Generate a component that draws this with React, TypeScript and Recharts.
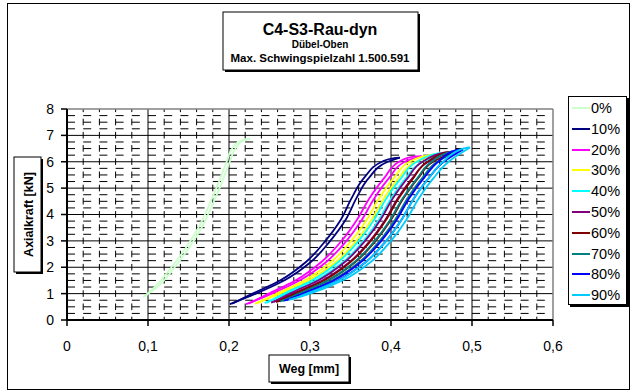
import React from 'react';
import { LineChart, Line, XAxis, YAxis, ReferenceLine } from 'recharts';

// Weg [mm] / Axialkraft [kN] pairs: loading branch up to the turning point, then unloading
const S0 = [[0.094,0.86],[0.113,1.3],[0.133,2.0],[0.152,2.8],[0.168,3.6],[0.18,4.4],[0.191,5.2],[0.201,6.0],[0.208,6.5],[0.217,6.8],[0.226,6.88],[0.215,6.8],[0.205,6.55],[0.197,6.0],[0.187,5.2],[0.176,4.4],[0.164,3.6],[0.148,2.8],[0.129,2.0],[0.11,1.3],[0.096,0.9]];
const S10 = [[0.201,0.6],[0.233,1.0],[0.268,1.5],[0.301,2.2],[0.325,3.0],[0.344,3.8],[0.357,4.6],[0.373,5.4],[0.396,6.0],[0.411,6.16],[0.404,6.14],[0.39,6.02],[0.367,5.4],[0.351,4.6],[0.338,3.8],[0.319,3.0],[0.295,2.2],[0.263,1.5],[0.229,1.0],[0.204,0.62]];
const S20 = [[0.221,0.6],[0.253,1.0],[0.287,1.5],[0.32,2.2],[0.345,3.0],[0.364,3.8],[0.379,4.6],[0.398,5.4],[0.417,6.0],[0.438,6.21],[0.43,6.2],[0.411,6.02],[0.392,5.4],[0.373,4.6],[0.358,3.8],[0.339,3.0],[0.314,2.2],[0.282,1.5],[0.249,1.0],[0.224,0.62]];
const S30 = [[0.232,0.62],[0.263,1.0],[0.298,1.5],[0.332,2.2],[0.357,3.0],[0.376,3.8],[0.391,4.6],[0.41,5.4],[0.43,6.0],[0.46,6.29],[0.452,6.28],[0.424,6.02],[0.404,5.4],[0.385,4.6],[0.37,3.8],[0.351,3.0],[0.326,2.2],[0.293,1.5],[0.259,1.0],[0.235,0.64]];
const S40 = [[0.244,0.64],[0.272,1.0],[0.307,1.5],[0.341,2.2],[0.366,3.0],[0.385,3.8],[0.4,4.6],[0.419,5.4],[0.439,6.0],[0.467,6.34],[0.459,6.33],[0.433,6.02],[0.413,5.4],[0.394,4.6],[0.379,3.8],[0.36,3.0],[0.335,2.2],[0.302,1.5],[0.268,1.0],[0.247,0.66]];
const S50 = [[0.252,0.66],[0.279,1.0],[0.315,1.5],[0.349,2.2],[0.374,3.0],[0.393,3.8],[0.408,4.6],[0.427,5.4],[0.446,6.0],[0.473,6.36],[0.465,6.35],[0.44,6.02],[0.421,5.4],[0.402,4.6],[0.387,3.8],[0.368,3.0],[0.343,2.2],[0.31,1.5],[0.275,1.0],[0.255,0.68]];
const S60 = [[0.258,0.68],[0.285,1.0],[0.322,1.5],[0.356,2.2],[0.381,3.0],[0.4,3.8],[0.415,4.6],[0.434,5.4],[0.452,6.0],[0.479,6.38],[0.471,6.37],[0.446,6.02],[0.428,5.4],[0.409,4.6],[0.394,3.8],[0.375,3.0],[0.35,2.2],[0.317,1.5],[0.281,1.0],[0.261,0.7]];
const S70 = [[0.263,0.7],[0.29,1.0],[0.327,1.5],[0.361,2.2],[0.386,3.0],[0.405,3.8],[0.42,4.6],[0.439,5.4],[0.457,6.0],[0.483,6.4],[0.475,6.39],[0.451,6.02],[0.433,5.4],[0.414,4.6],[0.399,3.8],[0.38,3.0],[0.355,2.2],[0.322,1.5],[0.286,1.0],[0.266,0.72]];
const S80 = [[0.268,0.73],[0.295,1.0],[0.334,1.5],[0.369,2.2],[0.394,3.0],[0.413,3.8],[0.428,4.6],[0.447,5.4],[0.465,6.0],[0.489,6.47],[0.481,6.45],[0.459,6.02],[0.441,5.4],[0.422,4.6],[0.407,3.8],[0.388,3.0],[0.363,2.2],[0.329,1.5],[0.291,1.0],[0.271,0.75]];
const S90 = [[0.274,0.76],[0.3,1.0],[0.34,1.5],[0.375,2.2],[0.4,3.0],[0.419,3.8],[0.434,4.6],[0.453,5.4],[0.471,6.0],[0.4975,6.54],[0.489,6.5],[0.465,6.02],[0.447,5.4],[0.428,4.6],[0.413,3.8],[0.394,3.0],[0.369,2.2],[0.335,1.5],[0.296,1.0],[0.277,0.78]];

const SERIES = [S0, S10, S20, S30, S40, S50, S60, S70, S80, S90];
const NAMES = ['0%', '10%', '20%', '30%', '40%', '50%', '60%', '70%', '80%', '90%'];
const COLORS = ['#ccffcc', '#000080', '#ff00ff', '#ffff00', '#00ffff', '#800080', '#800000', '#008080', '#0000ff', '#00ccff'];

const X_TICKS = [0, 0.1, 0.2, 0.3, 0.4, 0.5, 0.6];
const Y_TICKS = [0, 1, 2, 3, 4, 5, 6, 7, 8];

const FONT = '"Liberation Sans", Arial, sans-serif';

// gridline positions (major every 1 kN / 0.1 mm, minor 0.25 kN / 0.02 mm)
const majorY = [1, 2, 3, 4, 5, 6, 7];
const majorX = [0.1, 0.2, 0.3, 0.4, 0.5];
const minorY: number[] = [];
for (let i = 1; i < 32; i++) if (i % 4 !== 0) minorY.push(i * 0.25);
const minorX: number[] = [];
for (let i = 1; i < 30; i++) if (i % 5 !== 0) minorX.push(Math.round(i * 0.02 * 1000) / 1000);

const toPoints = (s: number[][]) => s.map(([x, y]) => ({ x, y }));

// split a loop at its turning point (largest Weg) into load / unload branches
const branches = (s: number[][]) => {
  let k = 0;
  s.forEach((p, i) => { if (p[0] > s[k][0]) k = i; });
  return [toPoints(s.slice(0, k + 1)), toPoints(s.slice(k))];
};

export default function App() {
  return (
    <div style={{ position: 'absolute', left: 0, top: 0, width: 632, height: 391, background: '#fff', fontFamily: FONT }}>
      <div style={{ position: 'absolute', left: 7, top: 3, width: 621, height: 385, border: '1px solid #000' }} />
      <LineChart width={632} height={391} margin={{ top: 109, right: 79, bottom: 41, left: 27 }}>
        {minorY.map((v) => (
          <ReferenceLine key={'my' + v} y={v} stroke="#000" strokeDasharray="8 8.2" />
        ))}
        {minorX.map((v) => (
          <ReferenceLine key={'mx' + v} x={v} stroke="#000" strokeDasharray="6.6 6.6" strokeDashoffset={3.3} />
        ))}
        {majorY.map((v) => (
          <ReferenceLine key={'y' + v} y={v} stroke="#000" />
        ))}
        {majorX.map((v) => (
          <ReferenceLine key={'x' + v} x={v} stroke="#000" />
        ))}
        <ReferenceLine y={8} stroke="#808080" strokeWidth={1.5} />
        <ReferenceLine x={0.6} stroke="#808080" strokeWidth={1.5} />
        <XAxis
          type="number"
          dataKey="x"
          domain={[0, 0.6]}
          ticks={X_TICKS}
          tickFormatter={(v: number) => String(v).replace('.', ',')}
          height={30}
          tickSize={6}
          tickMargin={15}
          axisLine={{ stroke: '#000', strokeWidth: 2 }}
          tickLine={{ stroke: '#000', strokeWidth: 1.5 }}
          tick={{ fill: '#000', fontSize: 14, fontFamily: FONT }}
          allowDataOverflow
        />
        <YAxis
          type="number"
          dataKey="y"
          domain={[0, 8]}
          ticks={Y_TICKS}
          width={40}
          tickSize={6}
          tickMargin={7}
          axisLine={{ stroke: '#000', strokeWidth: 2 }}
          tickLine={{ stroke: '#000', strokeWidth: 1.5 }}
          tick={{ fill: '#000', fontSize: 14, fontFamily: FONT }}
          allowDataOverflow
        />
        {SERIES.map((s, i) =>
          branches(s).map((b, j) => (
            <Line
              key={NAMES[i] + j}
              name={NAMES[i]}
              data={b}
              dataKey="y"
              type="monotoneY"
              stroke={COLORS[i]}
              strokeWidth={1.8}
              dot={false}
              isAnimationActive={false}
            />
          ))
        )}
      </LineChart>

      <svg width={632} height={391} style={{ position: 'absolute', left: 0, top: 0, pointerEvents: 'none' }}>
        <rect x={225} y={14} width={195} height={58} fill="#000" />
        <rect x={223} y={12} width={195} height={58} fill="#fff" stroke="#000" />
        <text x={320} y={35} textAnchor="middle" fontSize={16} fontWeight="bold" fontFamily={FONT}>C4-S3-Rau-dyn</text>
        <text x={320} y={48} textAnchor="middle" fontSize={10} fontWeight="bold" fontFamily={FONT}>Dübel-Oben</text>
        <text x={320} y={62} textAnchor="middle" fontSize={11.5} fontWeight="bold" fontFamily={FONT}>Max. Schwingspielzahl 1.500.591</text>

        <rect x={16} y={159} width={27} height={115} fill="#000" />
        <rect x={14} y={157} width={27} height={115} fill="#fff" stroke="#000" />
        <text x={0} y={0} transform="translate(32.5,214.5) rotate(-90)" textAnchor="middle" fontSize={12.5} fontWeight="bold" fontFamily={FONT}>Axialkraft [kN]</text>

        <rect x={271} y={357} width={80} height={27} fill="#000" />
        <rect x={269} y={355} width={80} height={27} fill="#fff" stroke="#000" />
        <text x={309} y={373} textAnchor="middle" fontSize={12.5} fontWeight="bold" fontFamily={FONT}>Weg [mm]</text>
      </svg>

      <div style={{ position: 'absolute', left: 568, top: 96, width: 59, height: 209, border: '1px solid #000', boxShadow: '2px 2px 0 #000', background: '#fff', boxSizing: 'border-box' }}>
        {NAMES.map((n, i) => (
          <div key={n} style={{ position: 'absolute', left: 0, top: 1 + i * 20.8, height: 20, display: 'flex', alignItems: 'center' }}>
            <div style={{ marginLeft: 3, width: 18, height: 2, background: COLORS[i] }} />
            <span style={{ marginLeft: 1, fontSize: 14.5, color: '#000', fontFamily: FONT }}>{n}</span>
          </div>
        ))}
      </div>
    </div>
  );
}
